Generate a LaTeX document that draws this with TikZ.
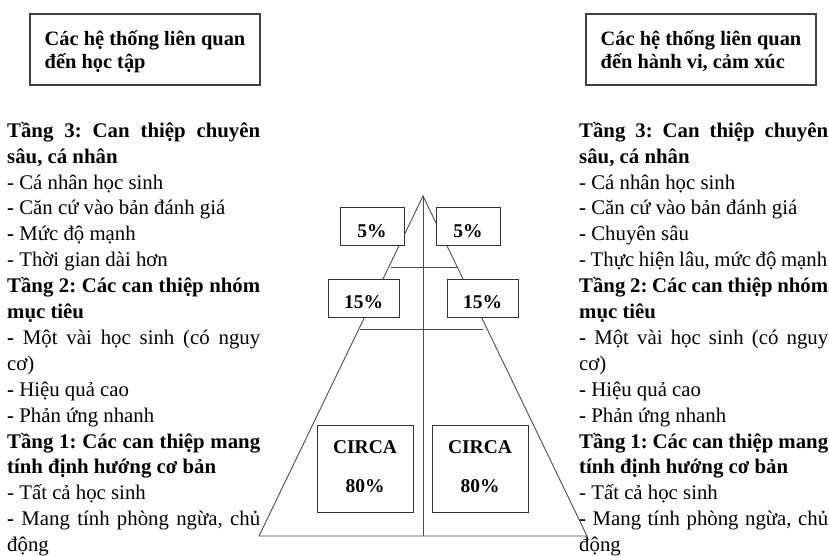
\documentclass[tikz,border=0pt]{standalone}
\usepackage{fontspec}
\setmainfont{Liberation Serif}
\frenchspacing
\begin{document}
\frenchspacing
\begin{tikzpicture}[x=1pt,y=-1pt,
  tri/.style={draw=black!70, line width=0.9pt},
  pbox/.style={draw=black!80, line width=0.9pt, fill=white, inner sep=0pt, align=center,
    font=\fontsize{19.5}{39}\selectfont\bfseries},
  hbox/.style={draw=black!75, line width=1.2pt, inner sep=0pt, minimum width=230pt, align=left,
    font=\fontsize{20.4}{23}\selectfont\bfseries},
  coltext/.style={inner sep=0pt, anchor=north west, align=left,
    font=\fontsize{20.8}{25.9}\selectfont\frenchspacing}]
\useasboundingbox (0,0) rectangle (829,555);

% pyramid
\coordinate (apex) at (423,196);
\coordinate (bl) at (259,536);
\coordinate (br) at (587,536);
\coordinate (bm) at (423,536);
\coordinate (l1a) at (391,267);
\coordinate (l1b) at (457,267);
\coordinate (l2a) at (360,329);
\coordinate (l2b) at (483,329);
\draw[tri] (bl) -- (apex) -- (br) -- cycle;
\draw[tri] (apex) -- (bm);
\draw[tri] (l1a) -- (l1b);
\draw[tri] (l2a) -- (l2b);

% percentage boxes
\node[pbox, minimum width=64pt] (p5l) at (372,226) {\rule{0pt}{30pt}5\%\rule[-8pt]{0pt}{8pt}};
\node[pbox, minimum width=64pt] (p5r) at (468,226) {\rule{0pt}{30pt}5\%\rule[-8pt]{0pt}{8pt}};
\node[pbox, minimum width=71pt] (p15l) at (363.5,298) {\rule{0pt}{29pt}15\%\rule[-9pt]{0pt}{9pt}};
\node[pbox, minimum width=71pt] (p15r) at (482.5,298) {\rule{0pt}{29pt}15\%\rule[-9pt]{0pt}{9pt}};
\node[pbox, minimum width=96pt] (p80l) at (365,468.5) {\rule{0pt}{28pt}CIRCA\\80\%\rule[-20pt]{0pt}{20pt}};
\node[pbox, minimum width=96pt] (p80r) at (480,468.5) {\rule{0pt}{28pt}CIRCA\\80\%\rule[-20pt]{0pt}{20pt}};

% header boxes
\node[hbox] (hl) at (145,49.5) {\rule{0pt}{31pt}Các hệ thống liên quan\\đến học tập\rule[-17pt]{0pt}{17pt}};
\node[hbox] (hr) at (701,49.5) {\rule{0pt}{31pt}Các hệ thống liên quan\\đến hành vi, cảm xúc\rule[-17pt]{0pt}{17pt}};

% left column
\node[coltext] (cl) at (7,107) {%
\makebox[253pt][s]{\rule{0pt}{30pt}\bfseries Tầng 3: Can thiệp chuyên}\\
\textbf{sâu, cá nhân}\\
- Cá nhân học sinh\\
\textbf{-} Căn cứ vào bản đánh giá\\
\textbf{-} Mức độ mạnh\\
- Thời gian dài hơn\\
\makebox[253pt][s]{\bfseries Tầng 2: Các can thiệp nhóm}\\
\textbf{mục tiêu}\\
\makebox[253pt][s]{\textbf{-} Một vài học sinh (có nguy}\\
cơ)\\
\textbf{-} Hiệu quả cao\\
\textbf{-} Phản ứng nhanh\\
\makebox[253pt][s]{\bfseries Tầng 1: Các can thiệp mang}\\
\textbf{tính định hướng cơ bản}\\
- Tất cả học sinh\\
\makebox[253pt][s]{\textbf{-} Mang tính phòng ngừa, chủ}\\
động};

% right column
\node[coltext] (cr) at (579,107) {%
\makebox[249pt][s]{\rule{0pt}{30pt}\bfseries Tầng 3: Can thiệp chuyên}\\
\textbf{sâu, cá nhân}\\
- Cá nhân học sinh\\
\textbf{-} Căn cứ vào bản đánh giá\\
\textbf{-} Chuyên sâu\\
\makebox[248pt][s]{- Thực hiện lâu, mức độ mạnh}\\
\makebox[249pt][s]{\bfseries Tầng 2: Các can thiệp nhóm}\\
\textbf{mục tiêu}\\
\makebox[249pt][s]{\textbf{-} Một vài học sinh (có nguy}\\
cơ)\\
\textbf{-} Hiệu quả cao\\
\textbf{-} Phản ứng nhanh\\
\makebox[249pt][s]{\bfseries Tầng 1: Các can thiệp mang}\\
\textbf{tính định hướng cơ bản}\\
- Tất cả học sinh\\
\makebox[249pt][s]{\textbf{-} Mang tính phòng ngừa, chủ}\\
động};
\end{tikzpicture}
\end{document}
